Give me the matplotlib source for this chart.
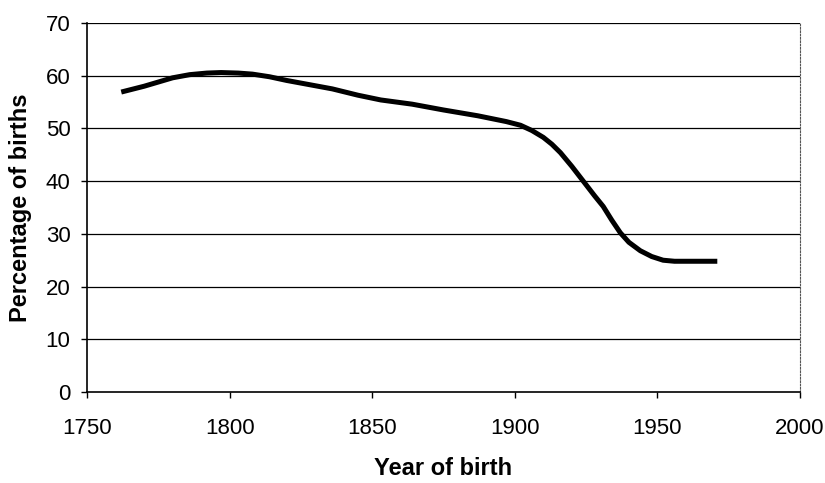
import matplotlib
matplotlib.use("Agg")
import matplotlib.pyplot as plt
from matplotlib import font_manager

# Values
years = [1762, 1770, 1780, 1786, 1792, 1797, 1803, 1808, 1814, 1820, 1828, 1836,
         1845, 1853, 1864, 1875, 1887, 1897, 1902, 1906, 1910, 1913, 1916, 1920,
         1924, 1928, 1931, 1934, 1937, 1940, 1944, 1948, 1952, 1956, 1960, 1971]
pct = [56.9, 58.0, 59.6, 60.2, 60.5, 60.6, 60.5, 60.3, 59.8, 59.1, 58.3, 57.5,
       56.3, 55.4, 54.6, 53.5, 52.4, 51.3, 50.6, 49.6, 48.3, 47.0, 45.4, 42.8,
       40.0, 37.2, 35.2, 32.6, 30.2, 28.4, 26.8, 25.7, 25.0, 24.8, 24.8, 24.8]

x_ticks = [1750, 1800, 1850, 1900, 1950, 2000]
y_ticks = [0, 10, 20, 30, 40, 50, 60, 70]


def pick_font(names):
    for n in names:
        try:
            font_manager.findfont(n, fallback_to_default=False)
            return n
        except Exception:
            pass
    return "DejaVu Sans"


tick_font = pick_font(["Liberation Sans Narrow", "Liberation Sans", "Arial"])
label_font = pick_font(["Liberation Sans", "Arial"])
tick_size = 17 if tick_font == "Liberation Sans Narrow" else 16

fig = plt.figure(figsize=(8.25, 4.83), dpi=100)
ax = fig.add_axes([0.1055, 0.1884, 0.8642, 0.764])

ax.plot(years, pct, color="black", linewidth=3.6, solid_capstyle="butt",
        solid_joinstyle="round", zorder=3)

ax.set_xlim(1750, 2000)
ax.set_ylim(0, 70)
ax.set_xticks(x_ticks)
ax.set_yticks(y_ticks)

for y in y_ticks[1:]:
    ax.axhline(y, color="black", linewidth=0.9, zorder=1)

ax.spines["top"].set_visible(False)
ax.spines["right"].set_linestyle((0, (1.5, 1.5)))
ax.spines["right"].set_color("#555555")
ax.spines["right"].set_linewidth(0.8)
ax.spines["left"].set_linewidth(1.2)
ax.spines["bottom"].set_linewidth(1.2)

ax.tick_params(axis="both", direction="out", length=4, width=1.0, color="black")
ax.tick_params(axis="x", pad=15)
ax.tick_params(axis="y", pad=8)

for lab in ax.get_xticklabels() + ax.get_yticklabels():
    lab.set_fontfamily(tick_font)
    lab.set_fontsize(tick_size)

ax.set_xlabel("Year of birth", fontfamily=label_font, fontweight="bold",
              fontsize=17, labelpad=13)
ax.set_ylabel("Percentage of births", fontfamily=label_font, fontweight="bold",
              fontsize=17, labelpad=10)

fig.savefig("out.png", dpi=100)
